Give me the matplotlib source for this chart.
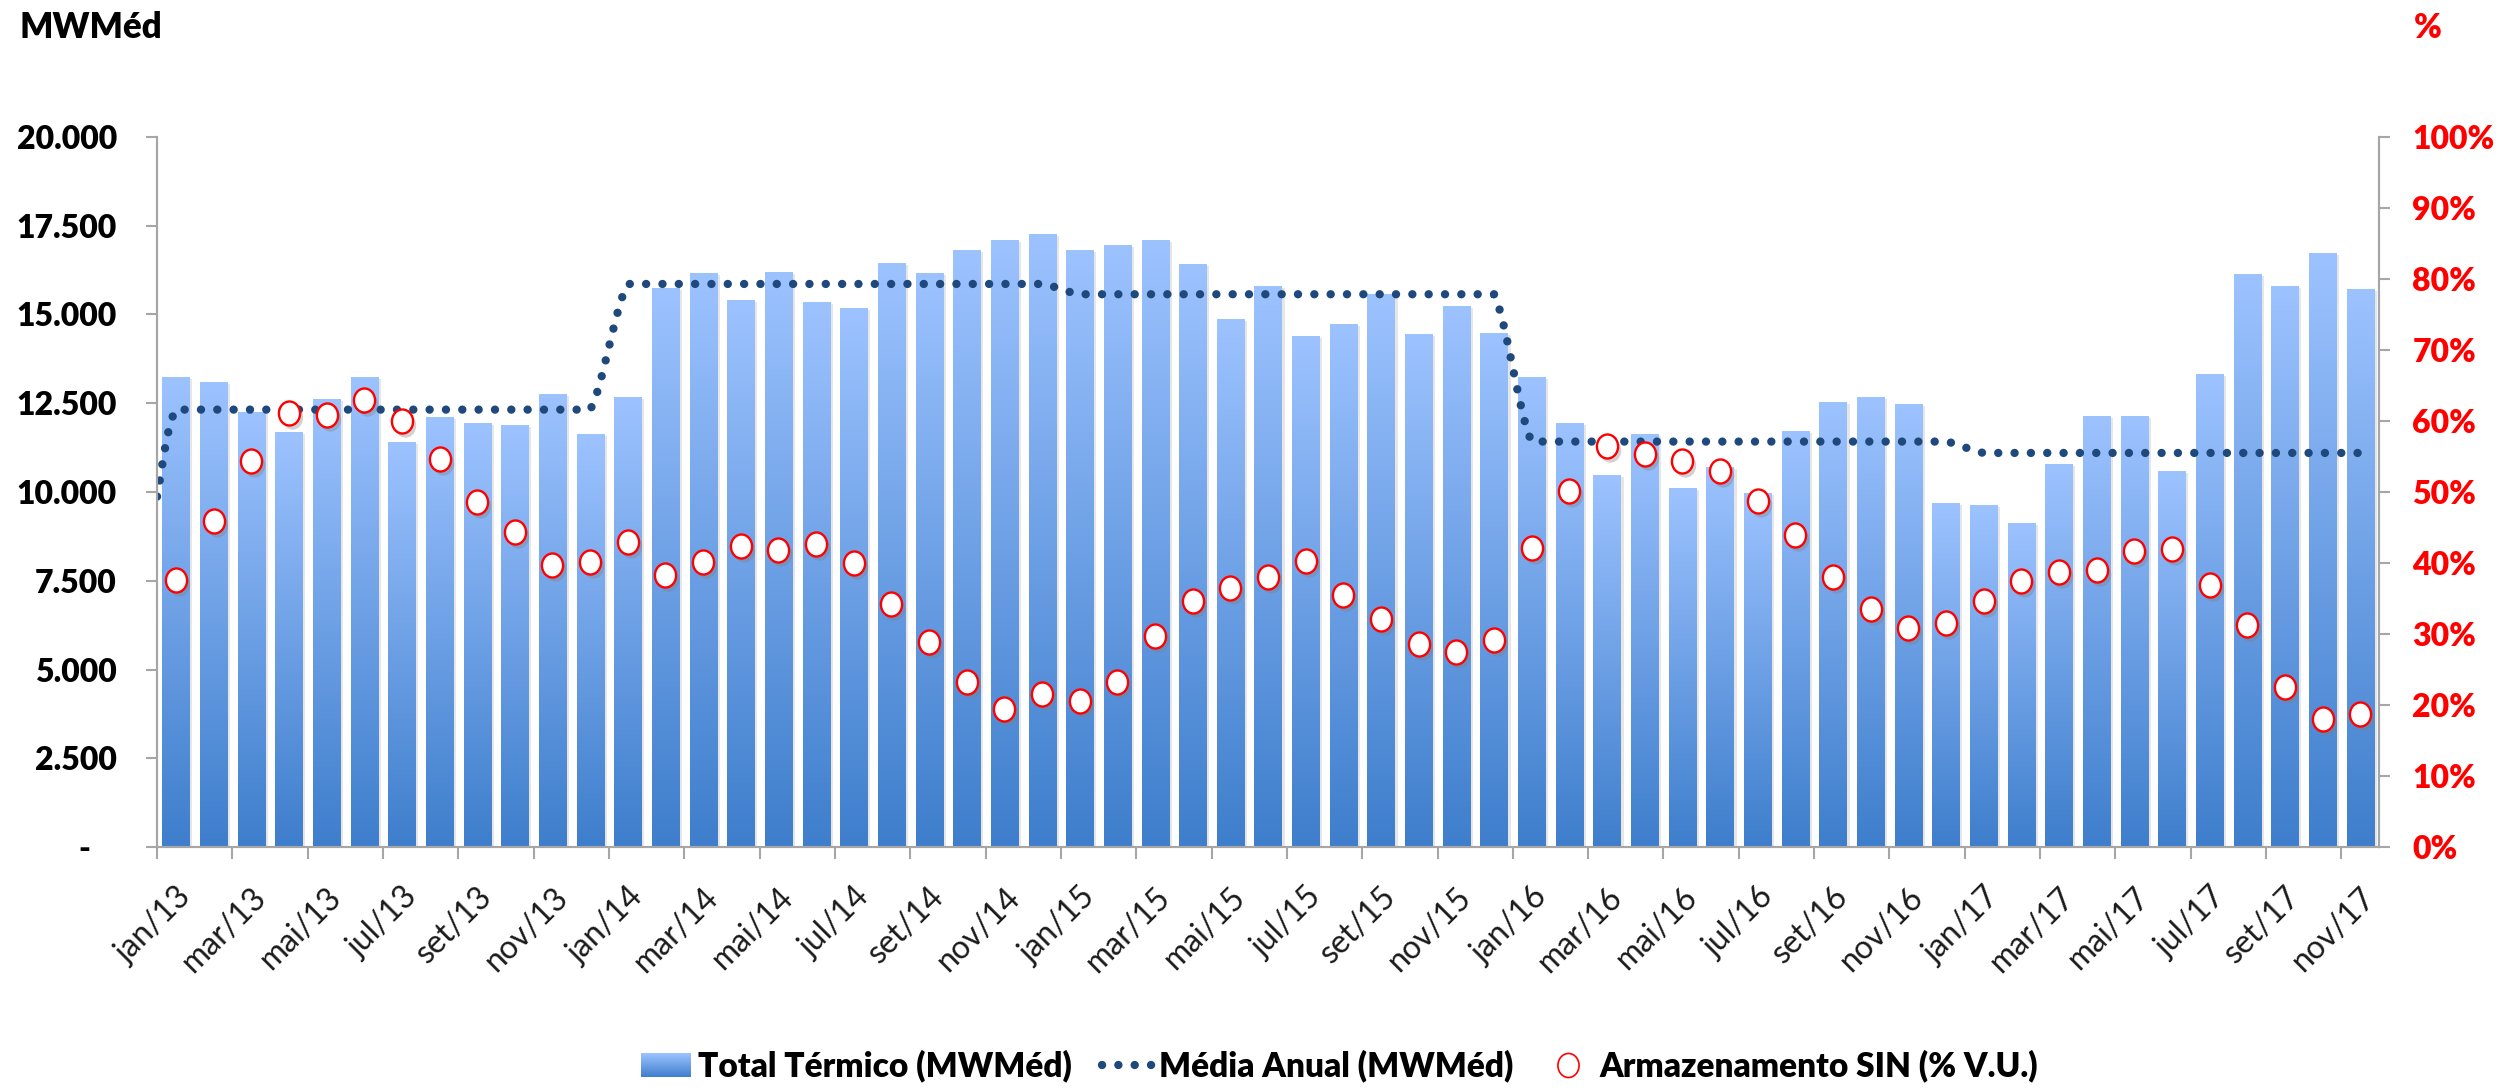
import numpy as np
import matplotlib
matplotlib.use('Agg')
from matplotlib import pyplot as plt
from matplotlib import transforms
from matplotlib.path import Path
from matplotlib.patches import Rectangle
from matplotlib.lines import Line2D
from matplotlib.legend_handler import HandlerBase
from matplotlib.ticker import FuncFormatter

plt.rcParams['font.family'] = ['Lato', 'DejaVu Sans']

meses = ['jan', 'fev', 'mar', 'abr', 'mai', 'jun', 'jul', 'ago', 'set', 'out', 'nov', 'dez']
anos = ['13', '14', '15', '16', '17']
categorias = [m + '/' + a for a in anos for m in meses][:59]

# MWMed por mes
total_termico = [13240, 13100, 12240, 11690, 12620, 13240, 11410, 12110, 11940, 11890, 12760, 11630,
                 12680, 15750, 16170, 15410, 16200, 15350, 15180, 16440, 16160, 16810, 17090, 17270,
                 16810, 16960, 17090, 16420, 14870, 15800, 14400, 14740, 15570, 14450, 15230, 14480,
                 13240, 11940, 10470, 11620, 10110, 10700, 9980, 11710, 12540, 12670, 12470, 9680,
                 9620, 9130, 10790, 12130, 12130, 10580, 13320, 16140, 15800, 16730, 15720]

# % V.U.
armazenamento = [37.6, 45.9, 54.3, 61.1, 60.9, 63.0, 60.0, 54.7, 48.6, 44.3, 39.7, 40.2,
                 42.9, 38.3, 40.2, 42.4, 41.8, 42.7, 40.0, 34.2, 28.9, 23.3, 19.4, 21.6,
                 20.5, 23.3, 29.7, 34.6, 36.5, 38.0, 40.3, 35.5, 32.1, 28.6, 27.5, 29.1,
                 42.1, 50.2, 56.5, 55.3, 54.3, 53.0, 48.8, 43.9, 38.0, 33.5, 30.8, 31.6,
                 34.6, 37.5, 38.8, 39.0, 41.7, 42.0, 36.9, 31.2, 22.6, 18.0, 18.8]

media_anos = [12320, 15860, 15570, 11420, 11100]
media_inicio = 9870   # valor no inicio do eixo

cor_topo = np.array([157, 195, 255]) / 255
cor_base = np.array([62, 126, 204]) / 255
cor_media = '#1F497D'
peso = 'heavy'


def suaviza(x, y, n=24):
    # curva suavizada (bezier tipo excel), sem passar dos pontos
    p = np.column_stack([x, y]).astype(float)
    p = np.vstack([p[0], p, p[-1]])
    t = np.linspace(0, 1, n, endpoint=False)[:, None]
    out = []
    for i in range(1, len(p) - 2):
        p0, p1, p2, p3 = p[i - 1], p[i], p[i + 1], p[i + 2]
        c1 = p1 + (p2 - p0) / 6
        c2 = p2 - (p3 - p1) / 6
        seg = (1 - t) ** 3 * p1 + 3 * (1 - t) ** 2 * t * c1 + 3 * (1 - t) * t ** 2 * c2 + t ** 3 * p2
        seg[:, 1] = np.clip(seg[:, 1], min(p1[1], p2[1]), max(p1[1], p2[1]))
        out.append(seg)
    out.append(p[-2][None, :])
    out = np.vstack(out)
    return out[:, 0], out[:, 1]


class HandlerGradiente(HandlerBase):
    def create_artists(self, legend, orig, xd, yd, w, h, fs, trans):
        n = 24
        arts = []
        for i in range(n):
            c = cor_base + (cor_topo - cor_base) * (i + 0.5) / n
            arts.append(Rectangle((xd, yd + h * i / n), w, h / n * 1.1, facecolor=c,
                                  edgecolor='none', transform=trans))
        return arts


def fmt_mw(v, p):
    # formato contabil: zero vira traco recuado
    if v == 0:
        return '-\u2007 '
    return f'{v:,.0f}'.replace(',', '.')


fig = plt.figure(figsize=(25.09, 10.88), dpi=100)
ax = fig.add_axes([0.0626, 0.2215, 0.8856, 0.6526])
ax2 = ax.twinx()

x = np.arange(len(categorias))

# sombra das barras
sombra = transforms.offset_copy(ax.transData, fig=fig, x=3, y=-2, units='dots')
ax.bar(x, total_termico, width=0.72, color='#c8c8c8', alpha=0.45, transform=sombra, zorder=1)
barras = ax.bar(x, total_termico, width=0.72, color='none', edgecolor='none', zorder=2)

grad = np.linspace(0, 1, 256)[:, None, None]
grad = cor_base + (cor_topo - cor_base) * grad
for b in barras:
    x0, y0, w, h = b.get_x(), b.get_y(), b.get_width(), b.get_height()
    im = ax.imshow(grad, extent=[x0, x0 + w, y0, y0 + h], origin='lower', aspect='auto',
                   interpolation='bilinear', zorder=2)
    im.set_clip_path(b)

# media anual
media_mensal = [media_anos[i // 12] for i in range(len(categorias))]
lx, ly = suaviza(np.r_[-0.5, x], np.r_[media_inicio, media_mensal])
ax.plot(lx, ly, color=cor_media, lw=6, linestyle=(0, (0.01, 1.95)),
        dash_capstyle='round', zorder=3)

ax.set_xlim(-0.5, len(categorias) - 0.5)
ax.set_ylim(0, 20000)

# armazenamento
circ = Path.unit_circle()
elipse = Path(circ.vertices * np.array([0.88, 1.0]), circ.codes)
sombra2 = transforms.offset_copy(ax2.transData, fig=fig, x=3, y=-4, units='dots')
ax2.plot(x, armazenamento, linestyle='none', marker=elipse, markersize=17.5,
         markerfacecolor='#7f7f7f', markeredgecolor='none', alpha=0.35, transform=sombra2)
ax2.plot(x, armazenamento, linestyle='none', marker=elipse, markersize=17.3,
         markerfacecolor='white', markeredgecolor='#FF0000', markeredgewidth=1.7)
ax2.set_ylim(0, 100)
ax2.set_xlim(-0.5, len(categorias) - 0.5)

# eixos
cinza = '#A6A6A6'
for a in (ax, ax2):
    a.spines['top'].set_visible(False)
    for s in ('left', 'right', 'bottom'):
        a.spines[s].set_color(cinza)
        a.spines[s].set_linewidth(1.5)

ax.set_yticks(np.arange(0, 20001, 2500))
ax.yaxis.set_major_formatter(FuncFormatter(fmt_mw))
ax.tick_params(axis='y', direction='out', length=8, width=1.5, color=cinza, pad=21,
               labelsize=23, labelcolor='black')
for t in ax.get_yticklabels():
    t.set_fontweight(peso)

ax2.set_yticks(np.arange(0, 101, 10))
ax2.yaxis.set_major_formatter(FuncFormatter(lambda v, p: f'{v:.0f}%'))
ax2.tick_params(axis='y', direction='out', length=8, width=1.5, color=cinza, pad=16,
                labelsize=23, labelcolor='#FF0000')
for t in ax2.get_yticklabels():
    t.set_fontweight(peso)

ax.set_xticks(np.arange(-0.5, len(categorias) - 1, 2))
ax.set_xticklabels([])
ax.tick_params(axis='x', which='major', direction='out', length=8.5, width=1.5, color=cinza)
ax.set_xticks(x[::2], categorias[::2], minor=True)
ax.tick_params(axis='x', which='minor', length=0, pad=25, labelsize=23, labelcolor='#1a1a1a')
for t in ax.get_xticklabels(minor=True):
    t.set_rotation(45)
    t.set_ha('right')
    t.set_va('top')
    t.set_rotation_mode('anchor')

fig.text(20 / 2509, 1 - 28 / 1088, 'MWMéd', fontsize=25, fontweight=peso,
         ha='left', va='center')
fig.text(2428 / 2509, 1 - 28 / 1088, '%', fontsize=24, fontweight=peso,
         color='#FF0000', ha='center', va='center')

h_barra = Rectangle((0, 0), 1, 1)
h_media = Line2D([], [], color=cor_media, lw=6, linestyle=(0, (0.01, 1.95)),
                 dash_capstyle='round')
h_arm = Line2D([], [], linestyle='none', marker=elipse, markersize=17.3,
               markerfacecolor='white', markeredgecolor='#FF0000', markeredgewidth=1.2)
leg = fig.legend([h_barra, h_media, h_arm],
                 ['Total Térmico (MWMéd)', 'Média Anual (MWMéd)', 'Armazenamento SIN (% V.U.)'],
                 handler_map={h_barra: HandlerGradiente()},
                 loc='center', bbox_to_anchor=(0.534, 0.02), ncol=3, frameon=False,
                 prop={'size': 24, 'weight': peso}, handlelength=1.5, handletextpad=0.2,
                 columnspacing=0.9)

fig.savefig('out.png', dpi=100, facecolor='white')
